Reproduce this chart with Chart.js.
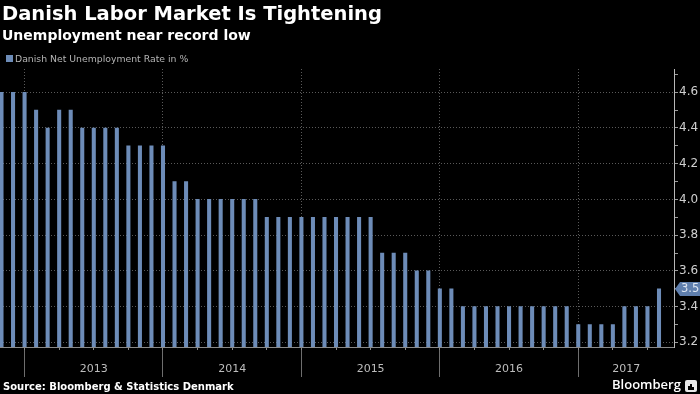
<!DOCTYPE html>
<html><head><meta charset="utf-8">
<script src="https://cdn.jsdelivr.net/npm/chart.js@4.4.1/dist/chart.umd.min.js"></script>
<style>
html,body{margin:0;padding:0;background:#000;}
#wrap{position:relative;width:700px;height:394px;overflow:hidden;background:#000;}
canvas{position:absolute;left:0;top:0;}
.t{position:absolute;white-space:nowrap;line-height:1;font-family:"DejaVu Sans",sans-serif;}
#sq{position:absolute;left:6px;top:55px;width:7px;height:7px;background:#6d8cb8;}
#icon{position:absolute;left:685px;top:380px;width:12px;height:12px;background:#e8e8e8;border-radius:2px;}
#icon i{position:absolute;bottom:2px;width:2px;background:#000;}
</style></head><body>
<div id="wrap">
<canvas id="c" width="700" height="394"></canvas>
<div class="t" style="left:2px;top:3.8px;font-size:19.5px;font-weight:bold;color:#fff">Danish Labor Market Is Tightening</div>
<div class="t" style="left:2px;top:27.5px;font-size:14px;font-weight:bold;color:#fff">Unemployment near record low</div>
<div id="sq"></div>
<div class="t" style="left:15px;top:53.7px;font-size:9.3px;color:#b4b4b4">Danish Net Unemployment Rate in %</div>
<div class="t" style="left:3px;top:381.5px;font-size:10px;font-weight:bold;color:#fff">Source: Bloomberg &amp; Statistics Denmark</div>
<div class="t" style="left:612px;top:377.5px;font-size:13px;font-weight:600;color:#fff;font-family:'Open Sans',sans-serif">Bloomberg</div>
<div id="icon"><i style="left:3px;height:4px"></i><i style="left:5px;height:6px"></i><i style="left:7px;height:3px"></i></div>
</div>
<script>
// ---- data ----
const months = [
 'Oct 2012','Nov 2012','Dec 2012',
 'Jan 2013','Feb 2013','Mar 2013','Apr 2013','May 2013','Jun 2013','Jul 2013','Aug 2013','Sep 2013','Oct 2013','Nov 2013','Dec 2013',
 'Jan 2014','Feb 2014','Mar 2014','Apr 2014','May 2014','Jun 2014','Jul 2014','Aug 2014','Sep 2014','Oct 2014','Nov 2014','Dec 2014',
 'Jan 2015','Feb 2015','Mar 2015','Apr 2015','May 2015','Jun 2015','Jul 2015','Aug 2015','Sep 2015','Oct 2015','Nov 2015','Dec 2015',
 'Jan 2016','Feb 2016','Mar 2016','Apr 2016','May 2016','Jun 2016','Jul 2016','Aug 2016','Sep 2016','Oct 2016','Nov 2016','Dec 2016',
 'Jan 2017','Feb 2017','Mar 2017','Apr 2017','May 2017','Jun 2017','Jul 2017'
];
const unemploymentRate = [
 4.6,4.6,4.6,
 4.5,4.4,4.5,4.5,4.4,4.4,4.4,4.4,4.3,4.3,4.3,4.3,
 4.1,4.1,4.0,4.0,4.0,4.0,4.0,4.0,3.9,3.9,3.9,3.9,
 3.9,3.9,3.9,3.9,3.9,3.9,3.7,3.7,3.7,3.6,3.6,3.5,
 3.5,3.4,3.4,3.4,3.4,3.4,3.4,3.4,3.4,3.4,3.4,3.3,
 3.3,3.3,3.3,3.4,3.4,3.4,3.5
];
const yearLabels = ['2013','2014','2015','2016','2017'];
const yMajorLabels = ['3.2','3.4','3.6','3.8','4.0','4.2','4.4','4.6'];
const yMinorValues = [3.3,3.5,3.7,3.9,4.1,4.3,4.5,4.7];

// ---- scale setup ----
const X_MIN = -0.13, X_MAX = 58.3;
const Y_MIN = 3.174, Y_MAX = 4.73;
const boundaries = [];
months.forEach((m,i)=>{ if (m.startsWith('Dec')) boundaries.push(i); });
const labelPos = new Map();
boundaries.forEach((b,k)=>{
  const next = k+1 < boundaries.length ? boundaries[k+1] : X_MAX;
  labelPos.set((b+next)/2, yearLabels[k]);
});
const isBoundary = v => boundaries.includes(v);
const quarters = [];
for (let i = boundaries[0] % 3; i < months.length; i += 3) quarters.push(i);
const yMajorVals = yMajorLabels.map(Number);
const isMajorY = v => yMajorVals.some(m => Math.abs(m - v) < 1e-6);

const points = unemploymentRate.map((v,i)=>({x:i, y:v}));

const lastValuePlugin = {
  id: 'lastValue',
  afterDraw(chart) {
    const {ctx, chartArea, scales} = chart;
    const v = unemploymentRate[unemploymentRate.length-1];
    const y = Math.round(scales.y.getPixelForValue(v));
    const x0 = chartArea.right + 1;
    ctx.save();
    ctx.fillStyle = '#5f7fae';
    ctx.beginPath();
    ctx.moveTo(x0, y);
    ctx.lineTo(x0+5, y-7);
    ctx.lineTo(700, y-7);
    ctx.lineTo(700, y+7);
    ctx.lineTo(x0+5, y+7);
    ctx.closePath();
    ctx.fill();
    ctx.fillStyle = '#dde5f1';
    ctx.font = '11.5px "DejaVu Sans"';
    ctx.textBaseline = 'middle';
    ctx.textAlign = 'left';
    ctx.fillText(v.toFixed(1), x0+6, y+0.5);
    ctx.restore();
  }
};

new Chart(document.getElementById('c'), {
  type: 'bar',
  data: {
    datasets: [{
      label: 'Danish Net Unemployment Rate in %',
      data: points,
      backgroundColor: '#6d8cb8',
      borderWidth: 0,
      barThickness: 3.4,
      xAxisID: 'x', yAxisID: 'y'
    }]
  },
  options: {
    responsive: false,
    animation: false,
    devicePixelRatio: 1,
    layout: { padding: { top: 69, bottom: 17, left: 0, right: 0 } },
    plugins: { legend: { display: false }, tooltip: { enabled: false } },
    scales: {
      x: {
        type: 'linear', position: 'bottom', min: X_MIN, max: X_MAX, offset: false,
        afterBuildTicks: s => {
          const vals = [...boundaries, ...labelPos.keys()].sort((a,b)=>a-b);
          s.ticks = vals.map(v => ({value: v}));
        },
        afterFit: s => { s.height = 30; },
        grid: {
          offset: false,
          color: c => (c.tick && isBoundary(c.tick.value)) ? '#5a5a5a' : 'rgba(0,0,0,0)',
          tickColor: c => (c.tick && isBoundary(c.tick.value)) ? '#6e6e6e' : 'rgba(0,0,0,0)',
          tickLength: 30,
          lineWidth: 1
        },
        border: { display: true, color: '#8a8a8a', dash: [1,2] },
        ticks: {
          autoSkip: false, maxRotation: 0, padding: -14,
          color: '#bdbdbd', font: { family: 'DejaVu Sans', size: 11 },
          callback: v => labelPos.get(v) || ''
        }
      },
      xq: {
        axis: 'x', type: 'linear', position: { y: Y_MIN }, min: X_MIN, max: X_MAX, offset: false,
        afterBuildTicks: s => { s.ticks = quarters.map(v => ({value: v})); },
        grid: { offset: false, drawOnChartArea: false, tickLength: 3, tickColor: '#8a8a8a' },
        border: { display: false },
        ticks: { display: false }
      },
      y: {
        type: 'linear', position: 'right', min: Y_MIN, max: Y_MAX,
        afterBuildTicks: s => {
          const vals = [...yMajorVals, ...yMinorValues].sort((a,b)=>a-b);
          s.ticks = vals.map(v => ({value: v}));
        },
        afterFit: s => { s.width = 26; },
        grid: {
          color: c => (c.tick && isMajorY(c.tick.value)) ? '#5a5a5a' : 'rgba(0,0,0,0)',
          tickColor: '#9a9a9a',
          tickLength: 4
        },
        border: { display: true, color: '#b8b8b8', dash: [1,2] },
        ticks: {
          padding: 1, color: '#cfcfcf', font: { family: 'DejaVu Sans', size: 12 },
          callback: v => {
            const i = yMajorVals.findIndex(m => Math.abs(m - v) < 1e-6);
            return i >= 0 ? yMajorLabels[i] : '';
          }
        }
      }
    }
  },
  plugins: [lastValuePlugin]
});
</script>
</body></html>
